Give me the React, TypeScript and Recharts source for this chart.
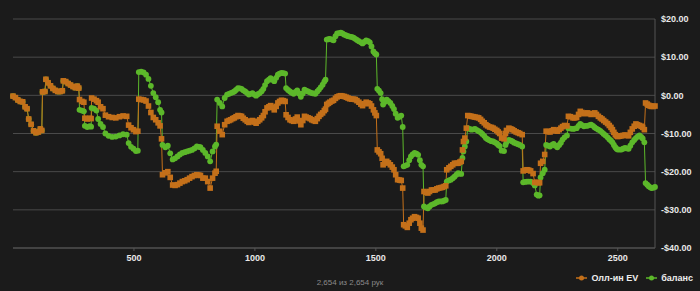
import { CartesianGrid, Line, LineChart, XAxis, YAxis } from 'recharts';

// hand number -> running totals
const hands = [
  0, 10, 20, 30, 40, 50, 58, 65, 75, 85, 95, 105, 113, 119, 122, 132, 136, 145, 155, 165,
  175, 185, 195, 204, 208, 218, 228, 238, 248, 258, 266, 272, 275, 285, 293, 297, 307, 317, 323, 325,
  335, 345, 352, 362, 372, 382, 395, 410, 425, 440, 455, 470, 478, 488, 498, 508, 516, 520, 530, 540,
  550, 560, 570, 580, 590, 600, 608, 614, 618, 630, 640, 650, 660, 670, 680, 690, 700, 710, 720, 730,
  740, 750, 760, 768, 775, 785, 795, 805, 815, 825, 835, 840, 844, 855, 865, 875, 885, 893, 900, 908,
  915, 922, 930, 938, 945, 952, 960, 968, 975, 983, 990, 998, 1005, 1012, 1020, 1028, 1035, 1042, 1050, 1058,
  1065, 1072, 1080, 1088, 1095, 1102, 1110, 1118, 1125, 1129, 1137, 1145, 1152, 1160, 1168, 1175, 1182, 1190, 1198, 1205,
  1212, 1220, 1228, 1235, 1242, 1250, 1258, 1265, 1272, 1280, 1287, 1292, 1297, 1304, 1310, 1318, 1325, 1333, 1340, 1348,
  1355, 1362, 1370, 1378, 1385, 1392, 1400, 1408, 1415, 1422, 1430, 1438, 1445, 1452, 1460, 1468, 1475, 1482, 1490, 1496,
  1502, 1506, 1513, 1520, 1526, 1530, 1538, 1545, 1552, 1560, 1568, 1575, 1582, 1590, 1598, 1605, 1611, 1615, 1622, 1630,
  1638, 1645, 1652, 1660, 1668, 1675, 1682, 1688, 1695, 1699, 1707, 1715, 1722, 1730, 1738, 1745, 1752, 1760, 1768, 1775,
  1782, 1789, 1793, 1802, 1810, 1818, 1825, 1833, 1840, 1847, 1853, 1858, 1862, 1868, 1874, 1880, 1888, 1895, 1903, 1910,
  1918, 1925, 1933, 1940, 1948, 1955, 1962, 1970, 1978, 1985, 1992, 2000, 2006, 2012, 2020, 2030, 2036, 2040, 2050, 2058,
  2065, 2072, 2080, 2088, 2095, 2105, 2109, 2117, 2125, 2132, 2140, 2150, 2157, 2165, 2172, 2177, 2181, 2190, 2198, 2204,
  2212, 2220, 2228, 2235, 2242, 2250, 2258, 2265, 2272, 2280, 2290, 2296, 2305, 2315, 2322, 2330, 2338, 2345, 2352, 2360,
  2368, 2375, 2383, 2390, 2398, 2405, 2412, 2420, 2428, 2435, 2442, 2450, 2458, 2465, 2472, 2478, 2484, 2490, 2495, 2500,
  2508, 2515, 2522, 2530, 2538, 2545, 2552, 2560, 2568, 2575, 2582, 2590, 2597, 2603, 2610, 2615, 2622, 2628, 2634, 2640,
  2647, 2654,
];

const allInEv = [
  -0.2, -0.6, -1.2, -1.6, -1.7, -3.0, -3.5, -6.2, -7.6, -9.3, -9.8, -9.6, -8.8, -9.2, 0.9, 1.0, 4.2, 3.3, 2.5, 1.8,
  1.3, 1.0, 1.0, 1.2, 3.8, 3.6, 3.1, 2.7, 2.3, 2.0, 2.4, 1.9, -1.1, -1.6, -1.8, -6.0, -6.2, -6.0, -6.1, -0.7,
  -1.0, -1.4, -1.8, -3.0, -3.5, -5.2, -5.6, -5.8, -5.9, -5.6, -5.4, -5.5, -7.8, -8.5, -9.0, -9.5, -9.4, -1.0, -1.1, -1.2,
  -1.5, -2.8, -4.5, -5.8, -6.4, -7.2, -8.0, -11.4, -20.8, -20.3, -20.0, -21.5, -23.5, -23.6, -23.4, -23.0, -22.6, -22.4, -22.1, -21.7,
  -21.3, -21.0, -20.8, -20.9, -21.0, -21.7, -21.7, -22.6, -24.3, -21.7, -20.4, -19.9, -8.1, -9.4, -10.3, -7.7, -6.8, -6.6, -6.4, -6.1,
  -5.9, -5.6, -5.3, -5.4, -5.5, -6.0, -6.4, -6.8, -7.1, -6.8, -6.6, -7.0, -7.3, -6.8, -6.4, -5.9, -5.3, -4.3, -3.3, -3.0,
  -2.7, -3.2, -3.8, -2.9, -2.0, -1.6, -1.3, -1.4, -1.6, -5.1, -5.8, -6.4, -6.6, -6.8, -6.2, -5.7, -6.7, -7.7, -6.6, -5.5,
  -5.7, -5.9, -6.1, -6.4, -6.6, -6.8, -6.1, -5.5, -5.0, -4.6, -4.0, -3.6, -2.4, -2.1, -1.8, -1.5, -1.3, -0.8, -0.4, -0.2,
  -0.1, -0.2, -0.3, -0.5, -0.7, -0.9, -1.0, -1.0, -1.1, -1.4, -1.8, -2.3, -2.7, -2.2, -1.8, -2.0, -2.2, -2.8, -3.8, -4.6,
  -5.3, -14.3, -14.8, -15.3, -16.5, -18.2, -17.7, -17.3, -17.7, -18.2, -18.8, -19.5, -20.8, -22.1, -22.2, -22.3, -24.3, -33.9, -34.2, -34.6,
  -33.5, -32.6, -32.2, -31.8, -32.0, -32.2, -33.5, -34.8, -35.3, -25.2, -25.4, -25.6, -25.2, -24.8, -24.8, -24.8, -24.5, -24.3, -24.2, -24.1,
  -23.9, -23.7, -19.5, -19.0, -18.6, -18.2, -17.8, -17.8, -17.8, -17.5, -17.3, -14.3, -12.1, -11.2, -8.6, -5.3, -5.4, -5.5, -5.6, -5.7,
  -5.8, -5.9, -6.3, -6.8, -7.2, -7.7, -8.0, -8.3, -8.4, -8.6, -8.9, -9.2, -9.6, -10.0, -11.2, -11.4, -10.0, -9.2, -8.6, -8.8,
  -9.0, -9.3, -9.6, -9.8, -10.0, -10.3, -19.8, -19.6, -19.5, -19.6, -19.8, -20.5, -22.8, -22.8, -22.9, -22.9, -17.8, -17.3, -15.5, -9.4,
  -9.5, -9.6, -9.3, -9.0, -9.2, -9.4, -9.0, -8.6, -8.2, -7.9, -8.0, -5.5, -5.6, -5.9, -5.9, -5.8, -5.0, -4.2, -4.5, -4.8,
  -4.7, -4.6, -4.8, -5.0, -4.8, -4.6, -5.0, -5.5, -5.9, -6.2, -6.6, -7.0, -7.4, -7.9, -8.4, -9.0, -9.7, -10.3, -10.6, -10.8,
  -10.7, -10.6, -10.5, -10.4, -10.5, -10.6, -9.7, -8.8, -8.1, -7.5, -7.7, -7.9, -8.1, -8.4, -9.0, -2.0, -2.3, -2.6, -2.8, -2.9,
  -2.9, -2.8,
];

const balance = [
  -0.2, -0.6, -1.2, -1.6, -1.7, -3.0, -3.5, -6.2, -7.6, -9.3, -9.8, -9.6, -8.8, -9.2, 0.9, 1.0, 4.2, 3.3, 2.5, 1.8,
  1.3, 1.0, 1.0, 1.2, 3.8, 3.6, 3.1, 2.7, 2.3, 2.0, 2.4, 1.9, -3.8, -4.0, -4.2, -8.0, -8.3, -8.1, -8.2, -3.3,
  -3.5, -4.0, -6.2, -7.5, -8.3, -10.0, -10.6, -10.9, -10.8, -10.5, -10.2, -10.3, -12.5, -13.5, -14.0, -14.6, -14.5, 6.1, 6.2, 6.0,
  5.4, 4.3, 2.5, 0.6, -0.5, -1.8, -3.8, -4.5, -13.0, -13.6, -13.2, -15.2, -16.8, -16.5, -16.0, -15.5, -15.1, -14.9, -14.7, -14.5,
  -14.3, -13.9, -13.4, -13.5, -13.6, -14.3, -15.1, -16.0, -17.3, -14.7, -13.4, -12.9, -1.1, -2.0, -2.9, -0.7, 0.2, 0.4, 0.6, 0.8,
  1.0, 1.4, 1.9, 1.8, 1.7, 1.3, 1.0, 0.6, 0.2, 0.4, 0.6, 0.2, -0.1, 0.3, 0.6, 1.1, 1.7, 2.7, 3.7, 4.1,
  4.5, 4.1, 3.7, 4.6, 5.4, 5.7, 5.9, 5.8, 5.7, 1.9, 1.4, 1.0, 0.7, 0.4, 0.9, 1.3, 0.5, -0.4, 0.5, 1.5,
  1.2, 1.0, 0.8, 0.6, 0.5, 0.4, 1.0, 1.5, 2.1, 2.8, 3.6, 4.1, 14.6, 14.7, 14.8, 14.6, 14.4, 15.5, 16.2, 16.3,
  16.4, 16.2, 15.9, 15.7, 15.5, 15.4, 15.3, 15.1, 14.8, 14.5, 14.2, 13.9, 13.6, 14.0, 14.4, 14.2, 13.9, 12.8, 11.5, 11.0,
  10.7, 1.7, 1.2, 0.6, -1.0, -2.4, -1.7, -1.1, -1.5, -2.0, -2.8, -3.6, -4.8, -5.9, -5.6, -5.3, -8.3, -18.6, -18.4, -18.2,
  -17.0, -16.0, -15.5, -15.1, -15.3, -15.6, -17.0, -18.2, -18.6, -29.1, -29.4, -29.6, -29.1, -28.7, -28.5, -28.3, -28.0, -27.8, -27.8, -27.8,
  -27.6, -27.4, -22.6, -22.3, -22.1, -21.7, -21.3, -20.8, -20.4, -20.5, -20.6, -16.4, -14.7, -13.4, -12.1, -8.6, -8.8, -9.0, -8.9, -8.8,
  -9.1, -9.4, -9.7, -10.1, -10.6, -11.2, -11.5, -11.8, -12.0, -12.1, -12.3, -12.6, -13.0, -13.3, -14.5, -14.6, -13.0, -12.3, -11.7, -11.9,
  -12.1, -12.4, -12.6, -12.8, -13.0, -13.4, -22.8, -22.7, -22.6, -22.6, -22.6, -23.0, -23.6, -26.0, -26.3, -26.2, -21.5, -20.4, -19.5, -13.0,
  -13.2, -13.4, -13.0, -12.7, -13.2, -13.6, -13.0, -12.4, -11.6, -11.0, -10.5, -8.6, -8.7, -8.8, -8.7, -8.6, -8.0, -7.5, -7.8, -8.1,
  -8.0, -8.0, -7.8, -7.7, -8.0, -8.4, -8.7, -9.0, -9.3, -9.7, -10.1, -10.5, -11.0, -11.5, -11.9, -12.3, -13.0, -13.6, -14.0, -14.2,
  -14.2, -14.2, -14.0, -13.8, -13.9, -14.0, -13.2, -12.3, -11.7, -11.2, -10.8, -10.5, -10.9, -11.3, -12.3, -23.0, -23.4, -23.8, -24.1, -24.3,
  -24.2, -24.0,
];

const xTicks = [500, 1000, 1500, 2000, 2500];
const yTicks = [-40, -30, -20, -10, 0, 10, 20];
const seriesNames = ['Олл-ин EV', 'баланс'];
const footerText = '2,654 из 2,654 рук';

const ORANGE = '#c4701a';
const GREEN = '#5cb82a';
const FONT = '"Liberation Sans", Arial, sans-serif';

const data = hands.map((hand, i) => ({ hand, ev: allInEv[i], bal: balance[i] }));

const money = (v: number) => (v < 0 ? '-$' : '$') + Math.abs(v).toFixed(2);

function SquareDot(props: any) {
  const { cx, cy, index } = props;
  if (cx == null || cy == null) return <g key={`o-${index}`} />;
  return <rect key={`o-${index}`} x={cx - 2.8} y={cy - 2.8} width={5.6} height={5.6} fill={ORANGE} />;
}

function RoundDot(props: any) {
  const { cx, cy, index } = props;
  if (cx == null || cy == null) return <g key={`g-${index}`} />;
  return <circle key={`g-${index}`} cx={cx} cy={cy} r={2.9} fill={GREEN} />;
}

function LegendItem({ color, label }: { color: string; label: string }) {
  return (
    <span style={{ display: 'inline-flex', alignItems: 'center', marginLeft: 8 }}>
      <svg width={11} height={6} style={{ marginRight: 4 }}>
        <line x1={0} y1={3} x2={11} y2={3} stroke={color} strokeWidth={1.5} />
        <circle cx={5.5} cy={3} r={2.5} fill={color} />
      </svg>
      {label}
    </span>
  );
}

export default function App() {
  return (
    <div
      style={{
        position: 'absolute',
        left: 0,
        top: 0,
        width: 700,
        height: 291,
        background: '#1b1b1b',
        fontFamily: FONT,
        overflow: 'hidden',
      }}
    >
      <LineChart width={700} height={291} data={data} margin={{ top: 19, right: 0, bottom: 28, left: 13 }}>
        <CartesianGrid vertical={false} stroke="#4a4a4a" />
        <XAxis
          dataKey="hand"
          type="number"
          domain={[0, 2654]}
          ticks={xTicks}
          height={15}
          tickSize={3}
          tickMargin={4}
          axisLine={{ stroke: '#555' }}
          tickLine={{ stroke: '#555' }}
          tick={{ fill: '#e8e8e8', fontSize: 9, fontWeight: 'bold', fontFamily: FONT }}
        />
        <YAxis
          orientation="right"
          domain={[-40, 20]}
          ticks={yTicks}
          interval={0}
          width={45}
          tickSize={0}
          tickMargin={6}
          tickLine={false}
          axisLine={{ stroke: '#555' }}
          tickFormatter={money}
          tick={{ fill: '#e8e8e8', fontSize: 9, fontWeight: 'bold', fontFamily: FONT }}
        />
        <Line
          type="linear"
          dataKey="bal"
          name={seriesNames[1]}
          stroke={GREEN}
          strokeWidth={1}
          dot={RoundDot}
          activeDot={false}
          isAnimationActive={false}
        />
        <Line
          type="linear"
          dataKey="ev"
          name={seriesNames[0]}
          stroke={ORANGE}
          strokeWidth={1}
          dot={SquareDot}
          activeDot={false}
          isAnimationActive={false}
        />
      </LineChart>

      <div
        style={{
          position: 'absolute',
          left: 0,
          width: 700,
          top: 278,
          textAlign: 'center',
          fontSize: 8,
          color: '#8a8a8a',
        }}
      >
        {footerText}
      </div>

      <div
        style={{
          position: 'absolute',
          right: 7,
          top: 273,
          fontSize: 9,
          fontWeight: 'bold',
          color: '#eeeeee',
          display: 'flex',
          alignItems: 'center',
        }}
      >
        <LegendItem color={ORANGE} label={seriesNames[0]} />
        <LegendItem color={GREEN} label={seriesNames[1]} />
      </div>
    </div>
  );
}
